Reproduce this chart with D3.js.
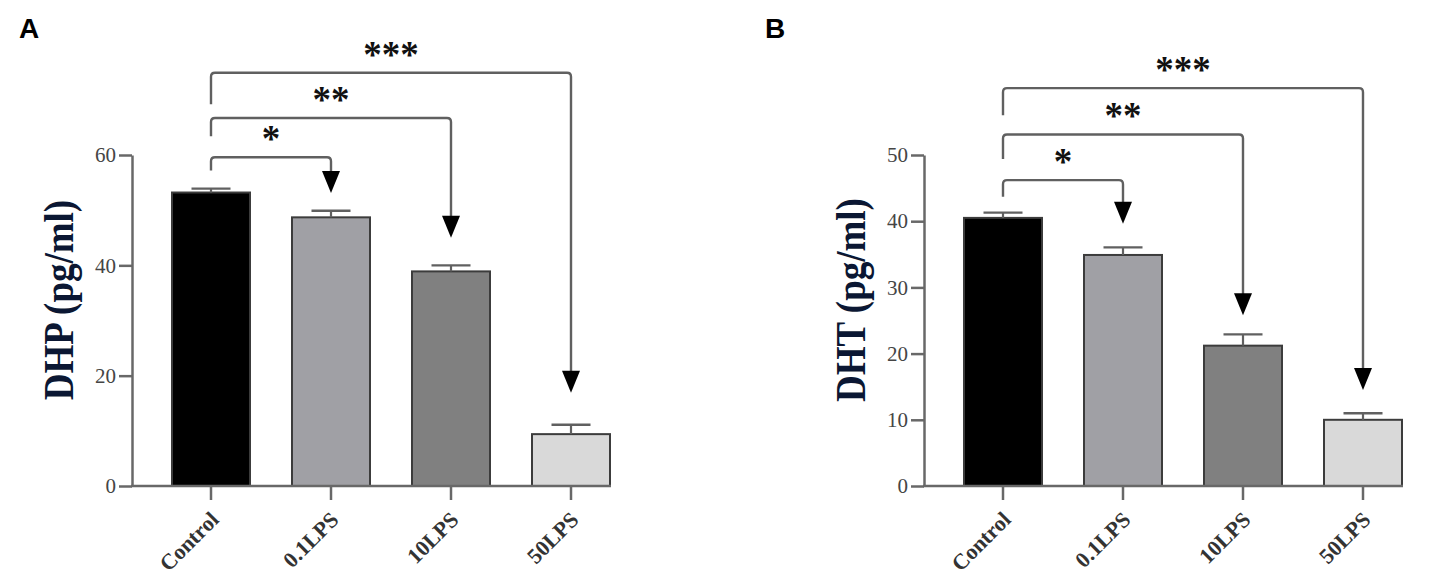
<!DOCTYPE html>
<html>
<head>
<meta charset="utf-8">
<script src="https://cdn.jsdelivr.net/npm/d3@7"></script>
<style>
  html, body { margin: 0; padding: 0; background: #ffffff; }
  svg { display: block; }
</style>
</head>
<body>
<div id="chart"></div>
<script>
// ---------- data ----------
const categories = ["Control", "0.1LPS", "10LPS", "50LPS"];

const dhpMeans = [53.2, 48.7, 38.9, 9.4];
const dhpErrors = [0.7, 1.2, 1.1, 1.7];
const dhpTicks = [0, 20, 40, 60];

const dhtMeans = [40.5, 34.9, 21.2, 10.0];
const dhtErrors = [0.8, 1.15, 1.7, 1.0];
const dhtTicks = [0, 10, 20, 30, 40, 50];

// significance comparisons vs Control (levels in data units)
const dhpComparisons = [
  { target: "0.1LPS", label: "*",   level: 59.6, start: 57.2, tip: 53.1 },
  { target: "10LPS",  label: "**",  level: 66.7, start: 63.4, tip: 45.0 },
  { target: "50LPS",  label: "***", level: 74.9, start: 69.2, tip: 16.9 }
];
const dhtComparisons = [
  { target: "0.1LPS", label: "*",   level: 46.2, start: 43.7, tip: 39.6 },
  { target: "10LPS",  label: "**",  level: 53.1, start: 49.4, tip: 25.8 },
  { target: "50LPS",  label: "***", level: 60.1, start: 56.0, tip: 14.5 }
];

// ---------- styles ----------
const barFills = ["#000000", "#a0a0a5", "#808080", "#d9d9d9"];
const axisColor = "#686868";
const W = 1453, H = 579;

const svg = d3.select("#chart").append("svg")
  .attr("width", W).attr("height", H)
  .attr("viewBox", `0 0 ${W} ${H}`);

function panel(offsetX, letter, letterX, yLabel, means, errors, ticks, comps) {
  const g = svg.append("g").attr("transform", `translate(${offsetX},0)`);
  const axisX = 132;
  const yMax = ticks[ticks.length - 1];

  const x = d3.scaleBand().domain(categories)
    .range([151, 631]).paddingInner(0.35).paddingOuter(0.175);
  const y = d3.scaleLinear().domain([0, yMax]).range([486, 155]);

  // panel letter (absolute position)
  svg.append("text")
    .attr("x", letterX).attr("y", 38)
    .attr("font-family", "Liberation Sans, Arial, sans-serif")
    .attr("font-weight", "bold").attr("font-size", 28)
    .attr("fill", "#000").text(letter);

  // bars
  g.selectAll("rect.bar").data(categories).enter().append("rect")
    .attr("class", "bar")
    .attr("x", d => x(d))
    .attr("y", (d, i) => y(means[i]))
    .attr("width", x.bandwidth())
    .attr("height", (d, i) => y(0) - y(means[i]))
    .attr("fill", (d, i) => barFills[i])
    .attr("stroke", "#3c3c3c").attr("stroke-width", 2);

  // error bars
  const capHalf = x.bandwidth() * 0.25;
  categories.forEach((c, i) => {
    const cx = x(c) + x.bandwidth() / 2;
    g.append("line")
      .attr("x1", cx).attr("x2", cx)
      .attr("y1", y(means[i])).attr("y2", y(means[i] + errors[i]))
      .attr("stroke", "#606060").attr("stroke-width", 2.2);
    g.append("line")
      .attr("x1", cx - capHalf).attr("x2", cx + capHalf)
      .attr("y1", y(means[i] + errors[i])).attr("y2", y(means[i] + errors[i]))
      .attr("stroke", "#606060").attr("stroke-width", 2.4);
  });

  // y axis
  const yAxis = d3.axisLeft(y).tickValues(ticks).tickSize(13).tickSizeOuter(0).tickPadding(3);
  const ya = g.append("g").attr("transform", `translate(${axisX},0)`).call(yAxis);
  ya.select(".domain").attr("stroke", axisColor).attr("stroke-width", 2.5);
  ya.selectAll(".tick line").attr("stroke", axisColor).attr("stroke-width", 2.5);
  ya.selectAll(".tick text")
    .attr("font-family", "Liberation Serif, Times New Roman, serif")
    .attr("font-size", 21).attr("fill", "#454545");

  // x axis
  const lastRight = x(categories[categories.length - 1]) + x.bandwidth();
  g.append("line")
    .attr("x1", axisX - 1).attr("x2", lastRight + 1)
    .attr("y1", y(0)).attr("y2", y(0))
    .attr("stroke", axisColor).attr("stroke-width", 2.5);
  const xAxis = d3.axisBottom(x).tickSize(14).tickSizeOuter(0).tickFormat("");
  const xa = g.append("g").attr("transform", `translate(0,${y(0)})`).call(xAxis);
  xa.select(".domain").remove();
  xa.selectAll(".tick line").attr("stroke", axisColor).attr("stroke-width", 2.5);

  categories.forEach(c => {
    const cx = x(c) + x.bandwidth() / 2;
    g.append("text")
      .attr("transform", `translate(${cx + 9},${521}) rotate(-45)`)
      .attr("text-anchor", "end")
      .attr("font-family", "Liberation Serif, Times New Roman, serif")
      .attr("font-weight", "bold")
      .attr("font-size", 22).attr("fill", "#333333")
      .text(c);
  });

  // y label
  g.append("text")
    .attr("transform", `translate(${axisX - 59},${300}) rotate(-90) scale(1,1.12)`)
    .attr("text-anchor", "middle")
    .attr("font-family", "Liberation Serif, Times New Roman, serif")
    .attr("font-weight", "bold").attr("font-size", 37)
    .attr("fill", "#0b1733")
    .text(yLabel);

  // significance brackets
  const x0 = x(categories[0]) + x.bandwidth() / 2;
  const r = 4, triH = 22, triHalf = 9;
  comps.forEach(cmp => {
    const x1 = x(cmp.target) + x.bandwidth() / 2;
    const ly = y(cmp.level), sy = y(cmp.start), ty = y(cmp.tip);
    const triTop = ty - triH;
    const p = d3.path();
    p.moveTo(x0, sy);
    p.lineTo(x0, ly + r);
    p.quadraticCurveTo(x0, ly, x0 + r, ly);
    p.lineTo(x1 - r, ly);
    p.quadraticCurveTo(x1, ly, x1, ly + r);
    p.lineTo(x1, triTop + 1);
    g.append("path").attr("d", p.toString())
      .attr("fill", "none").attr("stroke", "#606060").attr("stroke-width", 2.4);
    const t = d3.path();
    t.moveTo(x1 - triHalf, triTop);
    t.lineTo(x1 + triHalf, triTop);
    t.lineTo(x1, ty);
    t.closePath();
    g.append("path").attr("d", t.toString()).attr("fill", "#000");
    g.append("text")
      .attr("x", (x0 + x1) / 2).attr("y", ly - 6)
      .attr("text-anchor", "middle")
      .attr("font-family", "Liberation Serif, Times New Roman, serif")
      .attr("font-weight", "bold").attr("font-size", 37)
      .attr("fill", "#111")
      .text(cmp.label);
  });
}

panel(0, "A", 19, "DHP (pg/ml)", dhpMeans, dhpErrors, dhpTicks, dhpComparisons);
panel(792, "B", 765, "DHT (pg/ml)", dhtMeans, dhtErrors, dhtTicks, dhtComparisons);
</script>
</body>
</html>
